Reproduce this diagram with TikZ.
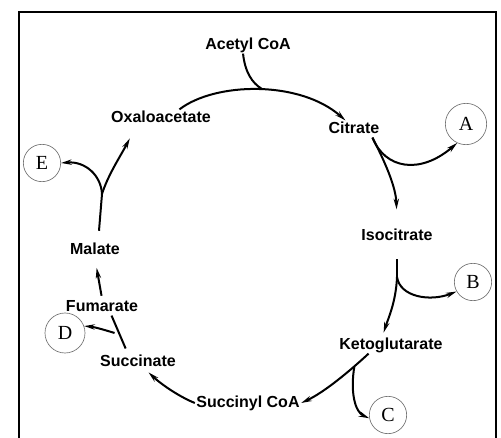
\documentclass[tikz,border=0pt]{standalone}
\usepackage{fontspec}
\setsansfont{Liberation Sans}
\newfontfamily\letterfont{Liberation Serif}
\usetikzlibrary{arrows.meta}

\begin{document}
\begin{tikzpicture}[x=0.75pt,y=0.75pt,
  met/.style={font=\sffamily\bfseries\fontsize{12}{14}\selectfont, inner sep=1pt, text height=8.5pt, text depth=2pt},
  ring/.style={circle, draw=black!55, line width=0.5pt, minimum size=28pt, inner sep=0pt, font=\letterfont\fontsize{15}{17}\selectfont},
  flow/.style={line width=1.5pt, -{Stealth[length=8pt,width=4pt]}},
  link/.style={line width=1.5pt}]
\useasboundingbox (0,0) rectangle (501,437);
\draw[line width=1.1pt] (19,-5) -- (19,425) -- (496,425) -- (496,-5);

\node[met] (acoa) at (248,392) {Acetyl CoA};
\node[met] (oaa) at (161,319) {Oxaloacetate};
\node[met] (cit) at (354,308) {Citrate};
\node[met] (iso) at (397,201) {Isocitrate};
\node[met] (kg) at (391,92) {Ketoglutarate};
\node[met] (scoa) at (248,34) {Succinyl CoA};
\node[met] (suc) at (138,75) {Succinate};
\node[met] (fum) at (102,130) {Fumarate};
\node[met] (mal) at (95,187) {Malate};

\node[ring, minimum size=31pt] (A) at (466,313) {A};
\node[ring] (B) at (473,155) {B};
\node[ring] (C) at (388,22) {C};
\node[ring, minimum size=30pt] (D) at (65,104) {D};
\node[ring] (E) at (42,274) {E};

\coordinate (acjoin) at (262,348);
\coordinate (isofork) at (397,160);
\coordinate (malfork) at (102,243);

\draw[flow] (oaa.25) .. controls (215,355) and (300,357) .. (cit.135);
\draw[link] (acoa.-120) .. controls (245,365) and (252,354) .. (acjoin);

\draw[flow, shorten >=13.5pt] (cit.-25) .. controls (385,275) and (396,250) .. (iso.north);
\draw[flow] (cit.-25) .. controls (385,268) and (420,262) .. (A.245);

\draw[link, shorten <=11pt] (iso.south) -- (isofork);
\draw[flow, shorten >=3pt] (isofork) .. controls (396,135) and (388,118) .. (kg.135);
\draw[flow] (isofork) .. controls (400,140) and (430,135) .. (B.210);

\draw[flow] (kg.-159) .. controls (352,68) and (325,45) .. coordinate[pos=.25] (kgfork) (scoa.east);
\draw[flow] (kgfork) .. controls (350,45) and (355,25) .. (C.190);

\draw[flow, shorten >=2pt] (scoa.west) .. controls (180,40) and (162,52) .. (suc.-45);

\draw[link, shorten <=4pt] (suc.140) -- coordinate[pos=.5] (dfork) (fum.-42);
\draw[flow, shorten <=4pt] (dfork) .. controls (108,106) and (95,110) .. (D.20);

\draw[flow, shorten <=2pt, shorten >=7pt] (fum.north) -- (mal.south);

\draw[link, shorten <=8pt] (mal.70) -- (malfork);
\draw[flow, shorten >=10pt] (malfork) .. controls (108,262) and (120,280) .. (oaa.-161);
\draw[flow] (malfork) .. controls (101,262) and (85,276) .. (E.east);

\end{tikzpicture}
\end{document}
